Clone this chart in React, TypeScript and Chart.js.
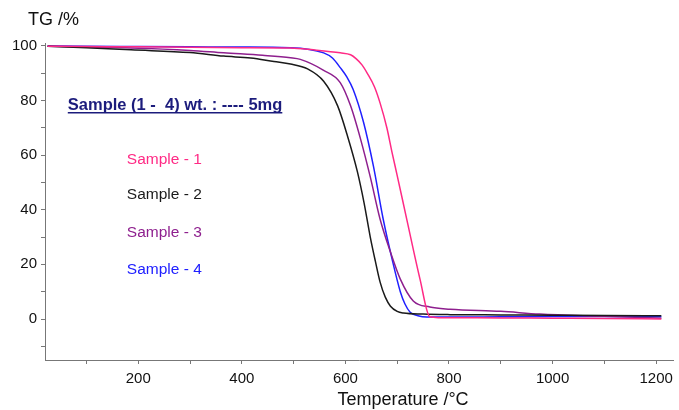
import React, { useEffect, useRef } from "react";
import { Chart, registerables } from "chart.js";

Chart.register(...registerables);

// ---- data (temperature °C, TG %) ----
const sample1Temp = [25, 100, 200, 300, 400, 494, 538, 590, 610, 621, 632, 642, 656, 667, 680, 690, 700, 719, 744, 763, 780, 900, 1000, 1100, 1210];
const sample1TG = [99.8, 99.7, 99.6, 99.4, 99.3, 99.2, 98.5, 97.4, 96.7, 95.2, 93, 90, 85, 79, 70, 61, 52.5, 36, 14.6, 0.8, 0.5, 0.4, 0.3, 0.2, 0];

const sample2Temp = [25, 100, 186, 300, 365, 417, 462, 494, 527, 558, 585, 604, 623, 636, 648, 658, 667, 677, 687, 700, 712, 750, 802, 900, 1000, 1100, 1210];
const sample2TG = [99.8, 99.3, 98.5, 97.5, 96.2, 95.5, 94.2, 93.3, 91.5, 87, 78, 67, 54, 42.5, 30, 21, 13.5, 8, 4.7, 2.8, 2.2, 1.8, 1.6, 1.5, 1.4, 1.3, 1.2];

const sample3Temp = [25, 100, 186, 300, 365, 440, 494, 513, 558, 590, 610, 629, 648, 667, 687, 706, 731, 763, 802, 900, 975, 1100, 1210];
const sample3TG = [99.8, 99.5, 99.2, 98.3, 97.4, 96.5, 95.6, 95, 91, 86.5, 78, 66, 52, 36.5, 24.5, 14.6, 6.6, 4.4, 3.6, 2.8, 1.8, 1, 0.3];

const sample4Temp = [25, 100, 200, 300, 400, 494, 558, 575, 590, 603, 615, 635, 654, 673, 690, 706, 715, 725, 740, 757, 800, 900, 1000, 1100, 1210];
const sample4TG = [99.9, 99.8, 99.7, 99.6, 99.5, 99.3, 97.4, 95.5, 92, 88.5, 84, 72, 56, 36.5, 22, 10, 5.5, 2.5, 1.2, 0.7, 0.7, 0.8, 0.9, 0.9, 0.8];

const seriesNames = ["Sample - 1", "Sample - 2", "Sample - 3", "Sample - 4"];
const seriesColors = ["#ff2a85", "#1a1a1a", "#8e1f8e", "#2020ff"];

const xTicks = [100, 200, 300, 400, 500, 600, 700, 800, 900, 1000, 1100, 1200];
const yTicks = [-10, 0, 10, 20, 30, 40, 50, 60, 70, 80, 90, 100];

const annotationTitle = "Sample (1 -  4) wt. : ---- 5mg";
// label anchors in data units (temperature, TG)
const titleAnchor = [64, 78.8];
const labelAnchorT = 178;
const labelAnchorTG = [58.4, 45.3, 31.4, 17.9];

const FONT = "'Liberation Sans', Arial, sans-serif";

function toPoints(t: number[], v: number[]) {
  return t.map((x, i) => ({ x, y: v[i] }));
}

const textPlugin = {
  id: "texts",
  afterDraw(chart: any) {
    const ctx = chart.ctx;
    const xs = chart.scales.x;
    const ys = chart.scales.y;
    ctx.save();
    ctx.fillStyle = "#111";
    ctx.font = `18px ${FONT}`;
    ctx.textBaseline = "middle";
    ctx.textAlign = "left";
    ctx.fillText("TG /%", 28, 20);
    ctx.textAlign = "center";
    ctx.fillText("Temperature /°C", 403, 400);

    // annotation title
    ctx.textAlign = "left";
    ctx.textBaseline = "alphabetic";
    ctx.font = `bold 16.5px ${FONT}`;
    ctx.fillStyle = "#1c1c7c";
    const tx = xs.getPixelForValue(titleAnchor[0]);
    const ty = ys.getPixelForValue(titleAnchor[1]) + 6;
    ctx.fillText(annotationTitle, tx, ty);
    const w = ctx.measureText(annotationTitle).width;
    ctx.strokeStyle = "#1c1c7c";
    ctx.lineWidth = 1.5;
    ctx.beginPath();
    ctx.moveTo(tx, ty + 3);
    ctx.lineTo(tx + w, ty + 3);
    ctx.stroke();

    ctx.font = `15.5px ${FONT}`;
    ctx.textBaseline = "middle";
    seriesNames.forEach((n, i) => {
      ctx.fillStyle = seriesColors[i];
      ctx.fillText(n, xs.getPixelForValue(labelAnchorT), ys.getPixelForValue(labelAnchorTG[i]));
    });
    ctx.restore();
  },
};

export default function App() {
  const ref = useRef<HTMLCanvasElement | null>(null);
  useEffect(() => {
    if (!ref.current) return;
    const datasets = [
      toPoints(sample1Temp, sample1TG),
      toPoints(sample2Temp, sample2TG),
      toPoints(sample3Temp, sample3TG),
      toPoints(sample4Temp, sample4TG),
    ].map((d, i) => ({
      label: seriesNames[i],
      data: d,
      borderColor: seriesColors[i],
      backgroundColor: seriesColors[i],
      borderWidth: 1.5,
      pointRadius: 0,
      cubicInterpolationMode: "monotone" as const,
      fill: false,
    }));
    const chart = new Chart(ref.current, {
      type: "line",
      data: { datasets },
      plugins: [textPlugin],
      options: {
        animation: false,
        responsive: false,
        maintainAspectRatio: false,
        layout: { padding: { top: 43, right: 5, left: 0, bottom: 0 } },
        plugins: { legend: { display: false }, tooltip: { enabled: false } },
        scales: {
          x: {
            type: "linear",
            min: 20,
            max: 1234,
            afterBuildTicks: (s: any) => {
              s.ticks = xTicks.map((v) => ({ value: v }));
            },
            afterFit: (s: any) => {
              s.height = 50;
            },
            grid: { drawOnChartArea: false, drawTicks: true, tickLength: 4, color: "#777" },
            border: { display: true, color: "#777", width: 1 },
            ticks: {
              autoSkip: false,
              maxRotation: 0,
              padding: 6,
              color: "#111",
              font: { family: FONT, size: 15 },
              callback: (v: any) => (Number(v) % 200 === 0 ? String(v) : ""),
            },
          },
          y: {
            type: "linear",
            min: -15,
            max: 101,
            afterBuildTicks: (s: any) => {
              s.ticks = yTicks.map((v) => ({ value: v }));
            },
            afterFit: (s: any) => {
              s.width = 45;
            },
            grid: { drawOnChartArea: false, drawTicks: true, tickLength: 4, color: "#777" },
            border: { display: true, color: "#777", width: 1 },
            ticks: {
              autoSkip: false,
              padding: 4,
              color: "#111",
              font: { family: FONT, size: 15 },
              callback: (v: any) => (Number(v) % 20 === 0 && Number(v) >= 0 ? String(v) : ""),
            },
          },
        },
      },
    });
    return () => chart.destroy();
  }, []);
  return (
    <div style={{ position: "absolute", left: 0, top: 0, width: 679, height: 410, background: "#fff" }}>
      <canvas ref={ref} width={679} height={410} style={{ width: 679, height: 410 }} />
    </div>
  );
}
